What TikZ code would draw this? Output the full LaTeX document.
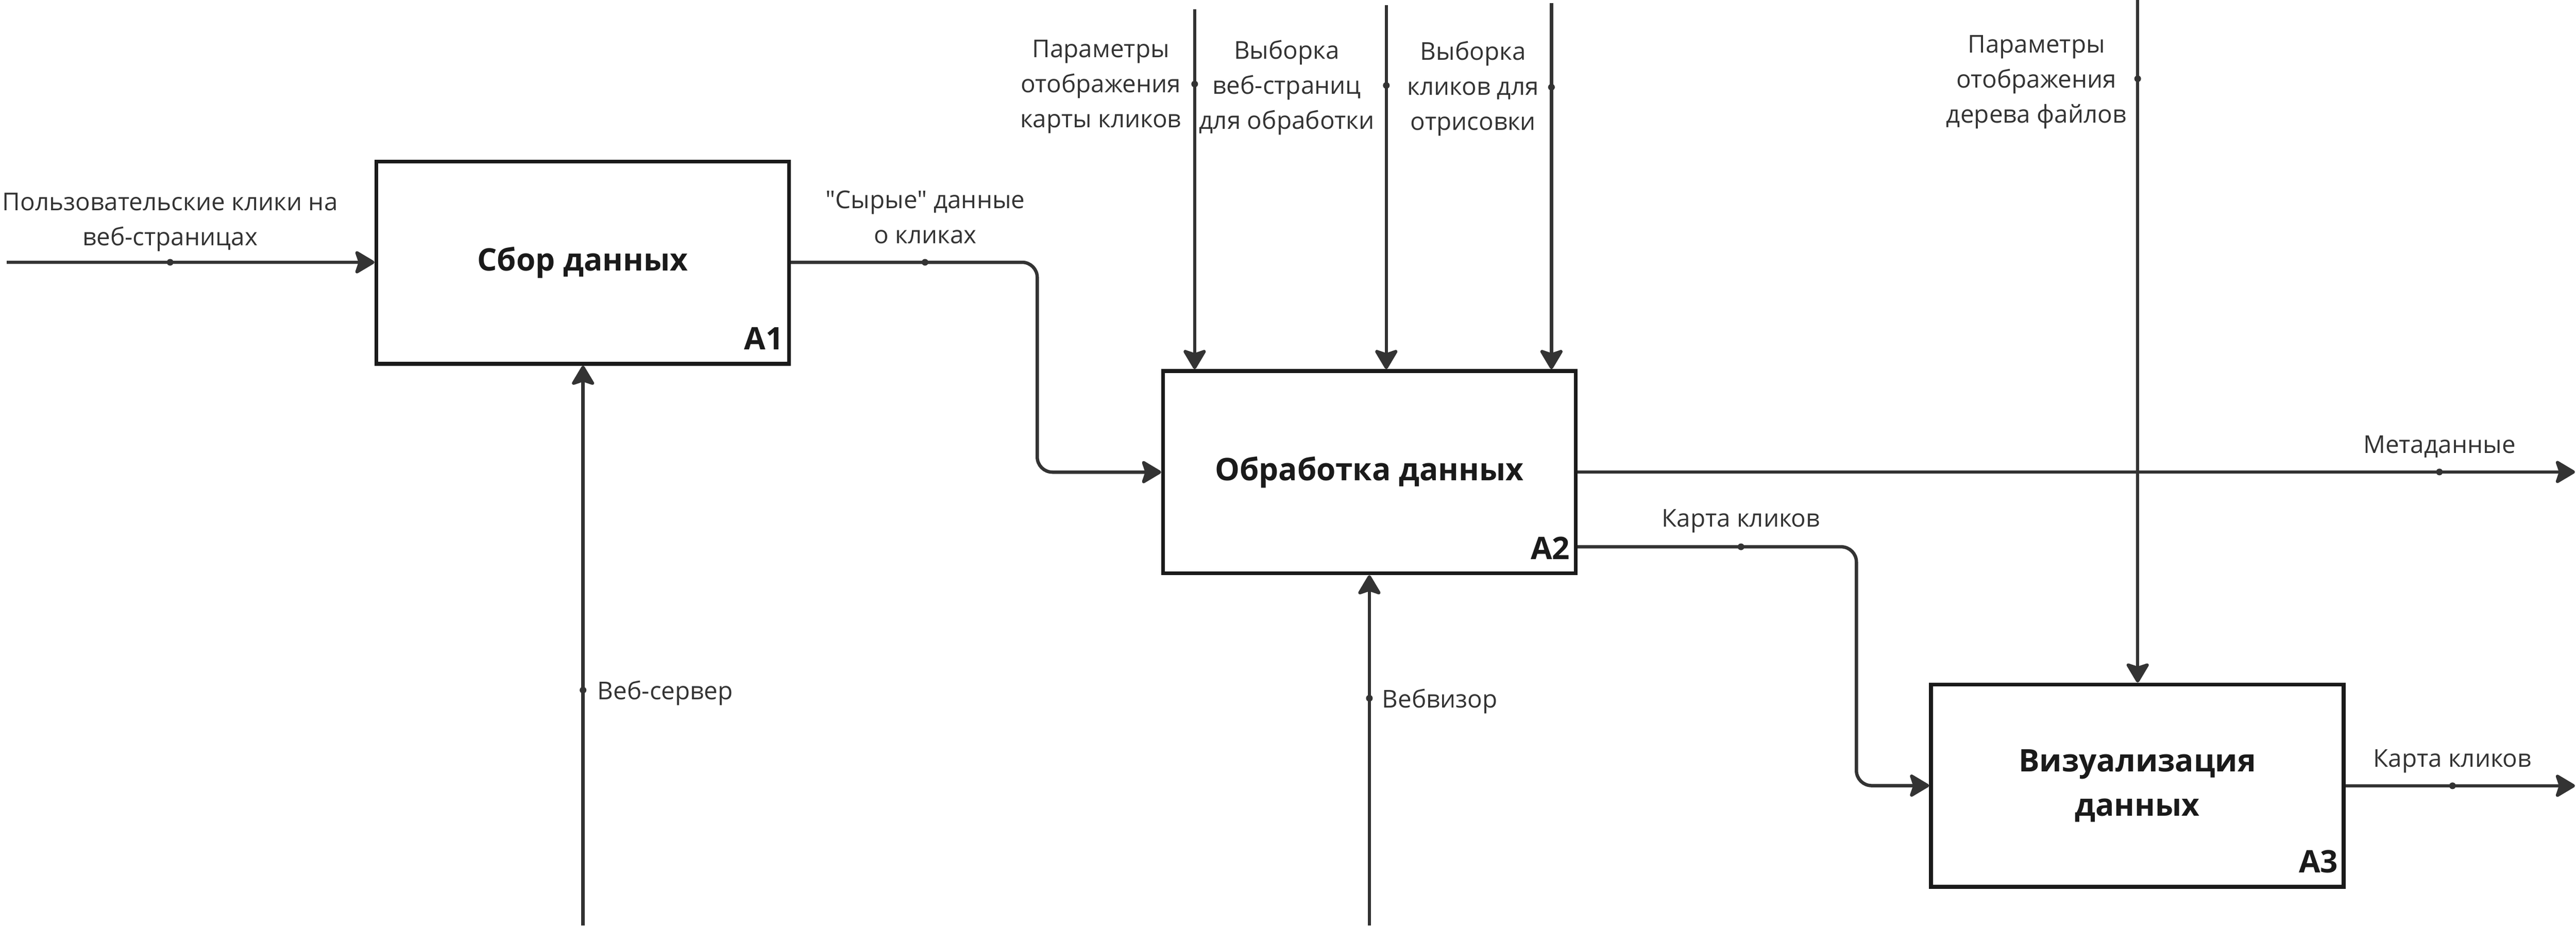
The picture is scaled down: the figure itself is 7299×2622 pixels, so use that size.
\documentclass[tikz,border=0pt]{standalone}
\usepackage{fontspec}
\setmainfont{Open Sans}[Ligatures=TeXOff]
\usetikzlibrary{arrows.meta,positioning}
\definecolor{ink}{HTML}{333333}
\definecolor{frame}{HTML}{1A1A1A}

\begin{document}
\begin{tikzpicture}[x=0.1pt,y=0.1pt,yscale=-1,xscale=1,
  blk/.style={draw=frame, line width=1.1pt, minimum width=116.9pt, minimum height=57.3pt,
    inner sep=0pt, align=center, text=frame, font=\fontsize{8.8}{12.6}\selectfont\bfseries},
  boxno/.style={anchor=base east, inner sep=0pt, text=frame, font=\fontsize{8.8}{12.6}\selectfont\bfseries},
  conn/.style={draw=ink, line width=0.95pt, -{Stealth[length=6.2pt,width=7.3pt,inset=1.2pt,round]}},
  joint/.style={circle, fill=ink, inner sep=0pt, minimum size=1.9pt},
  lbl/.style={anchor=base, inner sep=0pt, align=center, text=ink, font=\fontsize{6.95}{9.9}\selectfont}]
\useasboundingbox (0,0) rectangle (7299,2622);

% Function boxes
\node[blk] (a1) at (1651,744) {Сбор данных};
\node[blk] (a2) at (3880,1337.5) {Обработка данных};
\node[blk] (a3) at (6056,2225.5) {Визуализация\\данных};
\node[boxno] (n1) at (2222,990) {A1};
\node[boxno] (n2) at (4450,1584) {A2};
\node[boxno] (n3) at (6627,2472) {A3};

% Free ends
\coordinate (in1) at (19,743);
\coordinate (k1) at (2939,1000);
\coordinate (t1) at (3385,26);
\coordinate (t2) at (3928,14);
\coordinate (t3) at (4396,8);
\coordinate (t4) at (6057,0);
\coordinate (b1) at (1652,2622);
\coordinate (b2) at (3880,2622);
\coordinate (m1) at (7296,1337);
\coordinate (p2) at (a2.east |- 0,1549);
\coordinate (k2) at (5260,1900);
\coordinate (o3) at (7296,2226);

%Straight Lines
\draw[conn] (in1) -- (in1 -| a1.west);
\draw[conn, rounded corners=4.3pt] (a1.east |- in1) -| (k1) |- (a2.west);
\draw[conn] (t1) -- (t1 |- a2.north);
\draw[conn] (t2) -- (t2 |- a2.north);
\draw[conn] (t3) -- (t3 |- a2.north);
\draw[conn] (b1) -- (b1 |- a1.south);
\draw[conn] (b2) -- (b2 |- a2.south);
\draw[conn] (a2.east |- m1) -- (m1);
\draw[conn, rounded corners=4.3pt] (p2) -| (k2) |- (a3.west);
\draw[conn] (t4) -- (t4 |- a3.north);
\draw[conn] (a3.east |- o3) -- (o3);

% Dots
\node[joint] (d1) at (482,743) {};
\node[joint] (d2) at (2621,743) {};
\node[joint] (d3) at (3385,238) {};
\node[joint] (d4) at (3928,242) {};
\node[joint] (d5) at (4396,247) {};
\node[joint] (d6) at (1652,1955) {};
\node[joint] (d7) at (3880,1978) {};
\node[joint] (d8) at (6912,1337) {};
\node[joint] (d9) at (4933,1549) {};
\node[joint] (d10) at (6057,223) {};
\node[joint] (d11) at (6949,2226) {};

% Text Node
\node[lbl] (l1) at (482,695) {Пользовательские клики на\\веб-страницах};
\node[lbl] (l2) at (2622,690) {"Сырые" данные\\о кликах};
\node[lbl] (l3) at (3119,361) {Параметры\\отображения\\карты кликов};
\node[lbl] (l4) at (3646,365) {Выборка\\веб-страниц\\для обработки};
\node[lbl] (l5) at (4174,368) {Выборка\\кликов для\\отрисовки};
\node[lbl, anchor=base west] (l6) at (1691,1981) {Веб-сервер};
\node[lbl, anchor=base west] (l7) at (3914,2005) {Вебвизор};
\node[lbl] (l8) at (6912,1284) {Метаданные};
\node[lbl] (l9) at (4933,1492) {Карта кликов};
\node[lbl] (l10) at (5770,348) {Параметры\\отображения\\дерева файлов};
\node[lbl] (l11) at (6949,2173) {Карта кликов};

\end{tikzpicture}
\end{document}
